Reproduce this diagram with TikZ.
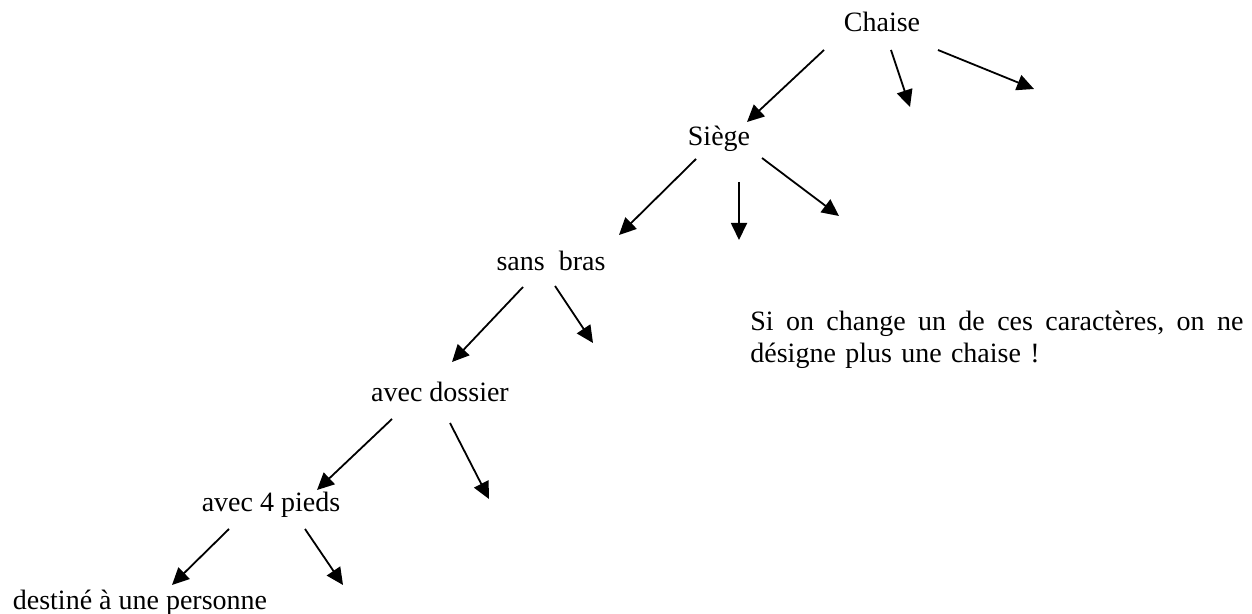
\documentclass[tikz,border=0pt]{standalone}
\usepackage{fontspec}
\setmainfont{Liberation Serif}
\usepackage{tikz}
\usetikzlibrary{calc, arrows.meta}

\begin{document}
\begin{tikzpicture}[x = 0.5pt, y = -0.5pt, font = \fontsize{14}{16}\selectfont]
			\useasboundingbox (0,0) rectangle (1252,614);

			\node (chaise) at (882,22) {Chaise};
			\node (siege) at (719,139) {Siège};
			\node (sansbras) at (551,261) {sans\ \ bras};
			\node (dossier) at (440,392) {avec dossier};
			\node (pieds) at (271,505) {avec 4 pieds};
			\node (personne) at (140,603) {destiné à une personne};

			\node (remarque) [anchor = north west, text width = 246.5pt, inner sep = 0pt, align = left] at (750,311)
				{\hbox to \linewidth{Si\hfill on\hfill change\hfill un\hfill de\hfill ces\hfill caractères,\hfill on\hfill ne}\\
				désigne plus une chaise !};

			\begin{scope}[-{Triangle[length = 8.5pt, width = 8pt]}, line width = 0.9pt]
				\draw ($(chaise)+(-58,28)$) -- ($(siege)+(28,-17)$);
				\draw ($(siege)+(-23,20)$) -- ($(sansbras)+(68,-26)$);
				\draw ($(sansbras)+(-28,26)$) -- ($(dossier)+(12,-30)$);
				\draw ($(dossier)+(-48,27)$) -- ($(pieds)+(46,-15)$);
				\draw ($(pieds)+(-42,24)$) -- ($(personne)+(32,-18)$);

				\foreach \src/\dx/\dy/\ex/\ey [count=\i] in {chaise/9/28/910/107, chaise/56/28/1034/89, siege/20/43/739/240, siege/43/19/839/216, sansbras/4/25/593/343, dossier/10/31/489/499, pieds/34/24/343/585}
				{
					\coordinate (bout\i) at (\ex,\ey);
					\draw ($(\src)+(\dx,\dy)$) -- (bout\i);
				}
			\end{scope}
		\end{tikzpicture}
\end{document}
